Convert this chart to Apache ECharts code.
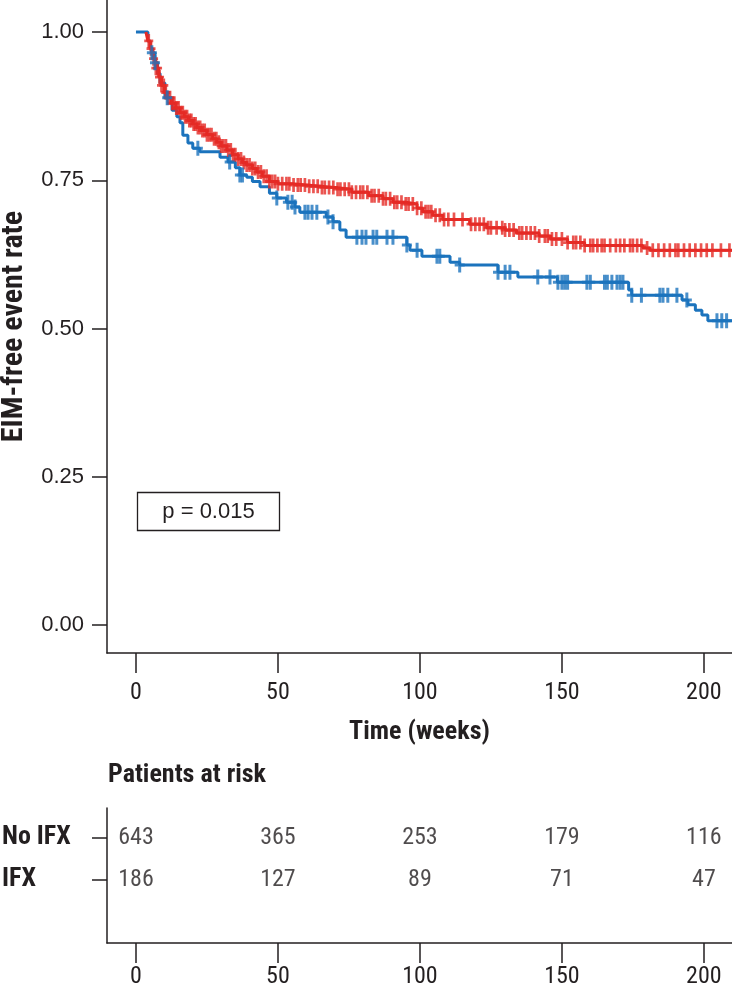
<!DOCTYPE html>
<html><head><meta charset="utf-8">
<script src="https://cdn.jsdelivr.net/npm/echarts@6/dist/echarts.min.js"></script>
<style>html,body{margin:0;padding:0;background:#fff}#c{width:732px;height:990px}</style>
</head><body><div id="c"></div>
<script>
// ---- data ----
const xTicks = [0, 50, 100, 150, 200];
const yTicks = [0, 0.25, 0.5, 0.75, 1.0];
const riskRows = ['IFX', 'No IFX'];
const riskNoIFX = [643, 365, 253, 179, 116];
const riskIFX = [186, 127, 89, 71, 47];

// No IFX (red) Kaplan-Meier steps
const redT = [3.5, 4.2, 5, 6, 7, 8, 9, 10, 11, 12.5, 14, 15.5, 17, 18.5, 20, 21.5, 23, 25, 27, 28.5, 30, 32, 34, 36, 37.5, 39, 41, 42.6, 44.5, 47, 50, 55, 60, 65, 70, 76, 82, 87, 90.5, 95, 99, 101, 104.5, 108, 117.5, 123.5, 130, 134, 142, 146, 152, 158, 178.5, 181, 210];
const redS = [1.0, 0.985, 0.972, 0.955, 0.939, 0.924, 0.91, 0.898, 0.889, 0.88, 0.872, 0.864, 0.857, 0.851, 0.845, 0.839, 0.834, 0.827, 0.82, 0.814, 0.808, 0.801, 0.793, 0.786, 0.78, 0.776, 0.77, 0.764, 0.757, 0.748, 0.744, 0.742, 0.740, 0.738, 0.735, 0.730, 0.724, 0.719, 0.713, 0.710, 0.703, 0.697, 0.691, 0.684, 0.676, 0.670, 0.666, 0.661, 0.656, 0.651, 0.645, 0.640, 0.636, 0.632, 0.632];
// IFX (blue) Kaplan-Meier steps
const blueT = [0, 4.2, 5, 5.6, 6.7, 7.6, 8.5, 10.2, 12.7, 14.4, 15.5, 16.5, 18.3, 20, 22.5, 29.6, 32.4, 35, 36.6, 39, 41, 43.7, 47, 49.6, 53, 56, 57.7, 67, 69.4, 71.8, 74, 95.4, 96.5, 100.7, 110.6, 114, 127.5, 134.5, 148.4, 173.5, 174.6, 192.3, 194.4, 197, 199.3, 201.4, 210];
const blueS = [1.0, 0.985, 0.975, 0.965, 0.948, 0.93, 0.914, 0.889, 0.868, 0.857, 0.847, 0.826, 0.813, 0.804, 0.798, 0.789, 0.781, 0.771, 0.759, 0.755, 0.748, 0.739, 0.728, 0.72, 0.713, 0.705, 0.696, 0.688, 0.68, 0.666, 0.654, 0.641, 0.632, 0.622, 0.612, 0.607, 0.595, 0.587, 0.578, 0.565, 0.556, 0.548, 0.540, 0.531, 0.523, 0.513, 0.513];

// censoring times
const redCens = [4.5,5.3,6.2,7,7.6,8.3,9,9.8,10.5,11.3,12,12.8,13.5,14.2,15,15.8,16.5,17.3,18,18.8,19.5,20.3,21,21.8,22.6,23.4,24.2,25,25.8,26.6,27.5,28.3,29.2,30,30.8,31.7,32.5,33.4,34.2,35,36,37,38,39,40,41,42,43,44,45,46,47,48,49,50,51.5,53,54,55.5,57,58,59.5,61,62.5,64,65.5,66.5,68,69.5,71,72,73.5,75,76,77.5,79,80,81.5,83,84,85.5,87,88,89.5,91,92,93.5,95,96,97.5,99,100.5,102,103,104,105.5,107,108.5,110,112,115,118,119.5,121,122.5,124,125,127,129,130,131.5,133,135,136,137.5,139,140.5,142,144,145,146.5,148,150,152,154,155,156.5,158,160,161,162.5,164,165,167,169,170.5,172,174,175,176.5,178,180,182,184,186,188,190,191,193,195,197,199,201,203,206,209];
const blueCens = [5.6,6.7,11,21.8,33,36.6,37.5,49.6,53.5,55,56,59.5,60.6,62,63.7,67.6,69.4,77.8,79.6,81,83.5,84.8,88.4,90.5,95.4,99,106,107,114,127.5,130,131.7,141.5,145.8,148.6,150,151,152,158.8,160,165,166,167.6,169.4,170.5,171.5,174.6,178,184.5,185.6,187.3,190.5,194,204.6,206.3,208];

// ---- helpers ----
function zip(a, b) { return a.map((v, i) => [v, b[i]]); }
function stepAt(T, S, t) { let v = S[0]; for (let i = 0; i < T.length; i++) { if (T[i] <= t) v = S[i]; } return v; }
function cens(T, S, C) { return C.map(t => [t, stepAt(T, S, t)]); }

const RED = '#e52a25', BLUE = '#1b73bd', INK = '#231f20';
const COND = "'Roboto Condensed','Liberation Sans',sans-serif";
const REG = "'Liberation Sans',Arial,sans-serif";
const PLUS = 'path://M-1.2,-6H1.2V-1.2H4V1.2H1.2V6H-1.2V1.2H-4V-1.2H-1.2Z';

const chart = echarts.init(document.getElementById('c'), null, { renderer: 'canvas' });
const axisLine = { show: true, onZero: false, lineStyle: { color: INK, width: 1.5 } };
const tickStyle = { color: INK, width: 1.5 };

chart.setOption({
  animation: false,
  grid: [
    { left: 107, top: 0, right: 0, height: 653, containLabel: false, outerBoundsMode: 'none' },
    { left: 107, top: 808, right: 0, height: 135, containLabel: false, outerBoundsMode: 'none' }
  ],
  xAxis: [
    { type: 'value', gridIndex: 0, min: -10.2, max: 209.9,
      axisLine: axisLine, splitLine: { show: false },
      axisTick: { show: true, length: 20, customValues: xTicks, lineStyle: tickStyle },
      axisLabel: { customValues: xTicks, margin: 28, fontFamily: COND, fontSize: 24, color: INK },
      name: 'Time (weeks)', nameLocation: 'middle', nameGap: 66,
      nameTextStyle: { fontFamily: COND, fontWeight: 'bold', fontSize: 26, color: INK } },
    { type: 'value', gridIndex: 1, min: -10.2, max: 209.9,
      axisLine: axisLine, splitLine: { show: false },
      axisTick: { show: true, length: 20, customValues: xTicks, lineStyle: tickStyle },
      axisLabel: { customValues: xTicks, margin: 22, fontFamily: COND, fontSize: 24, color: INK } }
  ],
  yAxis: [
    { type: 'value', gridIndex: 0, min: -0.047, max: 1.054,
      axisLine: axisLine, splitLine: { show: false },
      axisTick: { show: true, length: 15, customValues: yTicks, lineStyle: tickStyle },
      axisLabel: { customValues: yTicks, margin: 23, fontFamily: REG, fontSize: 22, color: INK,
        formatter: v => v.toFixed(2) },
      name: 'EIM-free event rate', nameLocation: 'middle', nameGap: 78,
      nameTextStyle: { fontFamily: COND, fontWeight: 'bold', fontSize: 30, color: INK } },
    { type: 'value', gridIndex: 1, min: -0.5, max: 2.714,
      axisLine: axisLine, splitLine: { show: false },
      axisTick: { show: true, length: 15, customValues: [1, 2], lineStyle: tickStyle },
      axisLabel: { customValues: [1, 2], margin: 105, align: 'left', fontFamily: COND,
        fontWeight: 'bold', fontSize: 26, color: INK, formatter: v => riskRows[v - 1] } }
  ],
  series: [
    { type: 'line', xAxisIndex: 0, yAxisIndex: 0, step: 'end', showSymbol: false, z: 2,
      data: zip(blueT, blueS), lineStyle: { color: BLUE, width: 3 }, itemStyle: { color: BLUE } },
    { type: 'line', xAxisIndex: 0, yAxisIndex: 0, step: 'end', showSymbol: false, z: 3,
      data: zip(redT, redS), lineStyle: { color: RED, width: 3 }, itemStyle: { color: RED } },
    { type: 'scatter', xAxisIndex: 0, yAxisIndex: 0, z: 4, symbol: PLUS, symbolSize: [9, 14],
      data: cens(redT, redS, redCens), itemStyle: { color: RED, opacity: 0.8 } },
    { type: 'scatter', xAxisIndex: 0, yAxisIndex: 0, z: 5, symbol: PLUS, symbolSize: [10, 15],
      data: cens(blueT, blueS, blueCens), itemStyle: { color: BLUE } },
    { type: 'scatter', xAxisIndex: 1, yAxisIndex: 1, symbolSize: 0,
      data: xTicks.map((t, i) => [t, 2, riskNoIFX[i]]).concat(xTicks.map((t, i) => [t, 1, riskIFX[i]])),
      label: { show: true, position: 'inside', formatter: p => String(p.value[2]),
        fontFamily: COND, fontSize: 24, color: INK } }
  ],
  graphic: [
    { type: 'text', left: 108, top: 762,
      style: { text: 'Patients at risk', font: "bold 26px 'Roboto Condensed','Liberation Sans',sans-serif", fill: INK } },
    { type: 'rect', shape: { x: 137.5, y: 492.5, width: 142, height: 38 },
      style: { fill: 'none', stroke: INK, lineWidth: 1.3 } },
    { type: 'text', x: 208.5, y: 512,
      style: { text: 'p = 0.015', font: "22px 'Liberation Sans',Arial,sans-serif", fill: INK, align: 'center', verticalAlign: 'middle' } }
  ]
});
</script></body></html>
